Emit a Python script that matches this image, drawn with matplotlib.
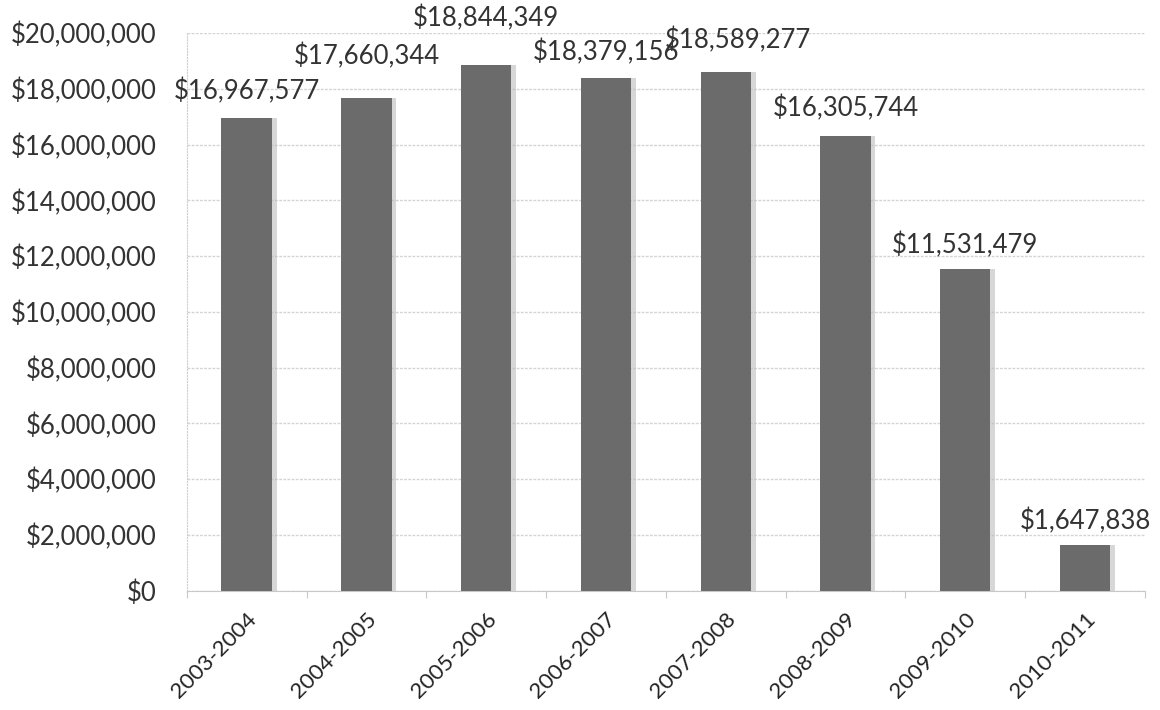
import matplotlib
matplotlib.use("Agg")
import matplotlib.pyplot as plt
import numpy as np

years = ["2003-2004", "2004-2005", "2005-2006", "2006-2007",
         "2007-2008", "2008-2009", "2009-2010", "2010-2011"]
amounts = [16967577, 17660344, 18844349, 18379156,
           18589277, 16305744, 11531479, 1647838]
ytick_vals = list(range(0, 20000001, 2000000))

# label nudges in points (x, y) above the bar top, like the Excel original
label_offsets = [(0, 19), (0, 30), (0, 34), (0, 19),
                 (9, 23), (0, 20), (0, 17), (0, 17)]

plt.rcParams['font.family'] = ['Lato', 'DejaVu Sans']

fig = plt.figure(figsize=(11.6, 7.1), dpi=100)
ax = fig.add_axes([0.161, 0.168, 0.826, 0.7855])

x = np.arange(len(years))
# soft shadow behind bars
ax.bar(x + 0.04, amounts, width=0.42, color="#bdbdbd", zorder=2, alpha=0.6)
ax.bar(x, amounts, width=0.42, color="#6b6b6b", zorder=3)

for i, v in enumerate(amounts):
    dx, dy = label_offsets[i]
    ax.annotate("${:,}".format(v), (x[i], v), xytext=(dx, dy),
                textcoords="offset points", ha="center", va="center",
                fontsize=18.5, color="#333333", zorder=4)

ax.set_xlim(-0.5, len(years) - 0.5)
ax.set_ylim(0, 20000000)
ax.set_yticks(ytick_vals)
ax.set_yticklabels(["${:,}".format(t) for t in ytick_vals], fontsize=18.5, color="#333333")

# excel style: tick marks between categories, labels at the centres
ax.set_xticks(np.arange(len(years) + 1) - 0.5)
ax.set_xticklabels([])
ax.set_xticks(x, minor=True)
ax.set_xticklabels(years, minor=True, rotation=45, ha="right",
                   rotation_mode="anchor", fontsize=16, color="#222222")
ax.tick_params(axis="y", length=0, pad=22)
ax.tick_params(axis="x", which="major", length=5, color="#c8c8c8")
ax.tick_params(axis="x", which="minor", length=0, pad=13)

ax.grid(axis="y", color="#d4d4d4", linestyle=(0, (2, 1)), linewidth=1, zorder=1)
for s in ["top", "right"]:
    ax.spines[s].set_visible(False)
ax.spines["left"].set_color("#cfcfcf")
ax.spines["left"].set_linestyle(":")
ax.spines["bottom"].set_color("#c8c8c8")

fig.savefig("out.png", dpi=100)
